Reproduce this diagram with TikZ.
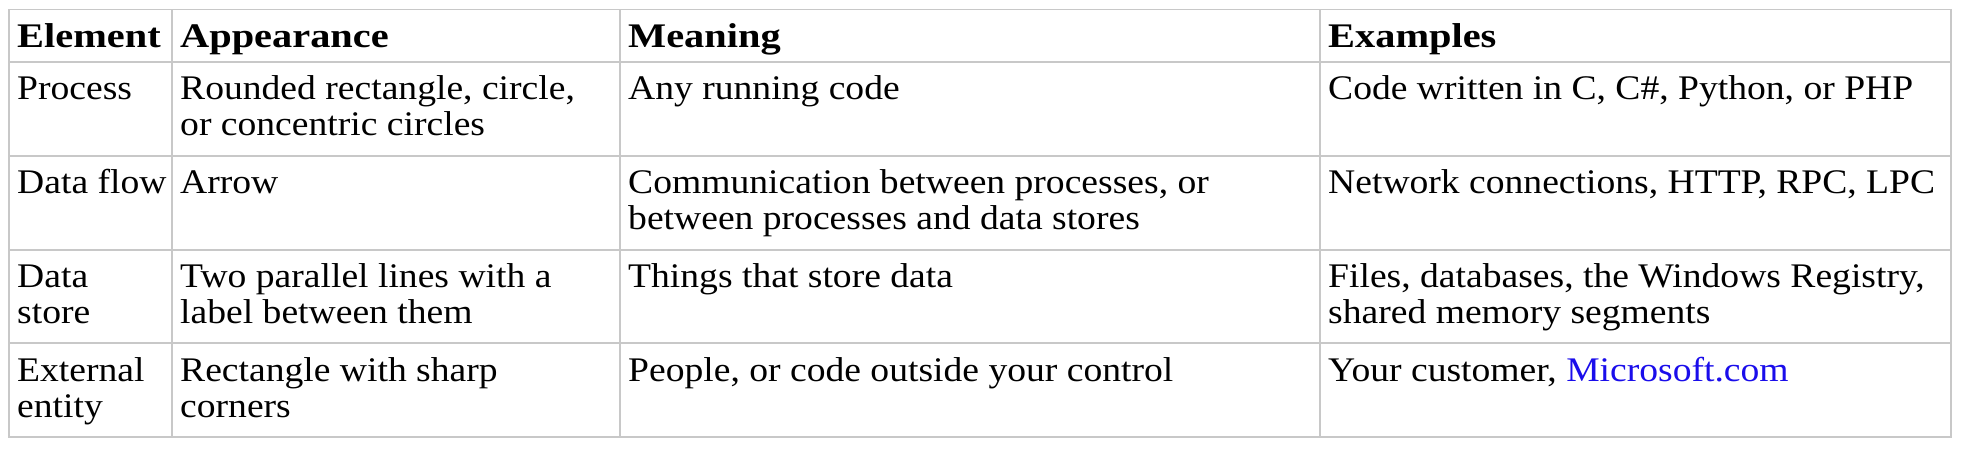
\documentclass[tikz,border=0pt]{standalone}
\usepackage{fontspec}
\setmainfont[FakeStretch=1.09,BoldFeatures={FakeStretch=1.17}]{Liberation Serif}
\definecolor{gridgray}{HTML}{C8C8C8}
\definecolor{linkblue}{HTML}{1A0DEB}
\begin{document}
\begin{tikzpicture}[x=1pt,y=-1pt,
  cell/.style={anchor=north west,inner sep=0pt,align=left,font=\fontsize{34.5}{36}\selectfont},
  head/.style={cell,font=\fontsize{34.5}{36}\selectfont\bfseries},
  grid/.style={draw=gridgray,line width=1.6pt}]
\fill[white] (0,0) rectangle (1966,450);
\useasboundingbox (0,0) rectangle (1966,450);
% grid
\draw[grid] (9,9.5) rectangle (1951,437);
\foreach \yy in {62,156,250,343} \draw[grid] (9,\yy) -- (1951,\yy);
\foreach \xx in {172,620,1320} \draw[grid] (\xx,9.5) -- (\xx,437);
% header
\def\tb{25.2}
\node[head] (h1) at (17,47-\tb) {\strut Element};
\node[head] (h2) at (180,47-\tb) {\strut Appearance};
\node[head] (h3) at (628,47-\tb) {\strut Meaning};
\node[head] (h4) at (1328,47-\tb) {\strut Examples};
% row 1
\node[cell] (a1) at (17,99-\tb) {\strut Process};
\node[cell] (b1) at (180,99-\tb) {\strut Rounded rectangle, circle,\\\strut or concentric circles};
\node[cell] (c1) at (628,99-\tb) {\strut Any running code};
\node[cell] (d1) at (1328,99-\tb) {\strut Code written in C, C\#, Python, or PHP};
% row 2
\node[cell] (a2) at (17,193-\tb) {\strut Data flow};
\node[cell] (b2) at (180,193-\tb) {\strut Arrow};
\node[cell] (c2) at (628,193-\tb) {\strut Communication between processes, or\\\strut between processes and data stores};
\node[cell] (d2) at (1328,193-\tb) {\strut Network connections, HTTP, RPC, LPC};
% row 3
\node[cell] (a3) at (17,287-\tb) {\strut Data\\\strut store};
\node[cell] (b3) at (180,287-\tb) {\strut Two parallel lines with a\\\strut label between them};
\node[cell] (c3) at (628,287-\tb) {\strut Things that store data};
\node[cell] (d3) at (1328,287-\tb) {\strut Files, databases, the Windows Registry,\\\strut shared memory segments};
% row 4
\node[cell] (a4) at (17,381-\tb) {\strut External\\\strut entity};
\node[cell] (b4) at (180,381-\tb) {\strut Rectangle with sharp\\\strut corners};
\node[cell] (c4) at (628,381-\tb) {\strut People, or code outside your control};
\node[cell] (d4) at (1328,381-\tb) {\strut Your customer, {\color{linkblue}Microsoft.com}};
\end{tikzpicture}
\end{document}
